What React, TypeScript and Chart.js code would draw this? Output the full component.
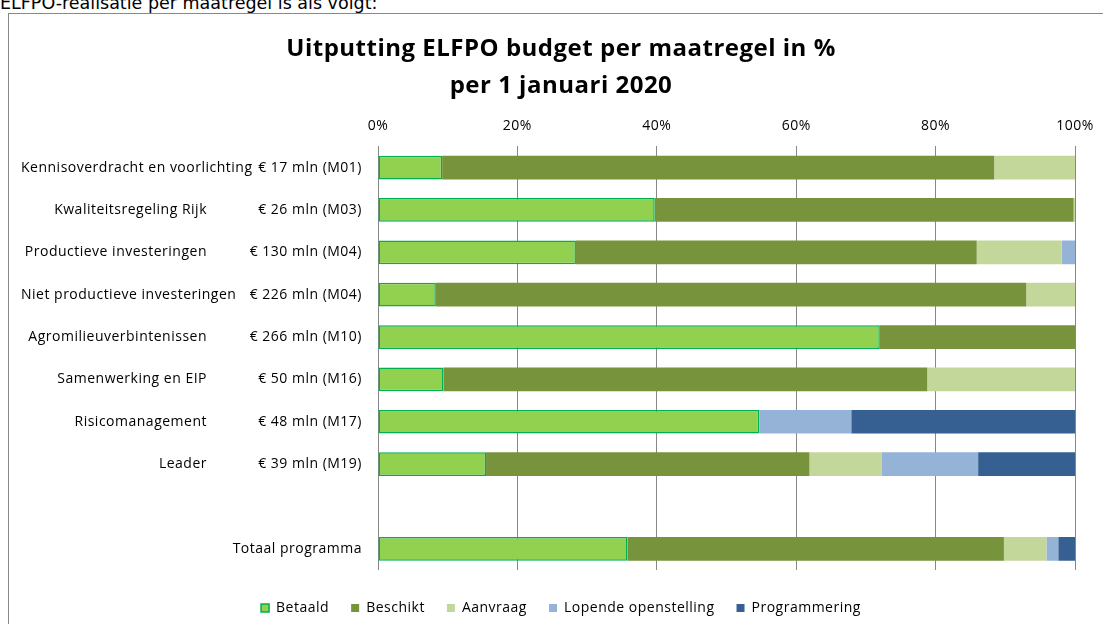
import React, { useEffect, useRef } from "react";
import { Chart, registerables } from "chart.js";

Chart.register(...registerables);

const names = [
  "Kennisoverdracht en voorlichting",
  "Kwaliteitsregeling Rijk",
  "Productieve investeringen",
  "Niet productieve investeringen",
  "Agromilieuverbintenissen",
  "Samenwerking en EIP",
  "Risicomanagement",
  "Leader",
  "",
  "",
];
const budgets = [
  "€ 17 mln (M01)",
  "€ 26 mln (M03)",
  "€ 130 mln (M04)",
  "€ 226 mln (M04)",
  "€ 266 mln (M10)",
  "€ 50 mln (M16)",
  "€ 48 mln (M17)",
  "€ 39 mln (M19)",
  "",
  "Totaal programma",
];
const betaald = [9.2, 39.7, 28.4, 8.3, 72.0, 9.4, 54.7, 15.5, null, 35.8];
const beschikt = [79.2, 60.1, 57.5, 84.7, 28.0, 69.4, 0, 46.4, null, 54.0];
const aanvraag = [11.6, 0.2, 12.2, 7.0, 0, 21.2, 0, 10.4, null, 6.1];
const lopende = [0, 0, 1.9, 0, 0, 0, 13.2, 13.8, null, 1.7];
const programmering = [0, 0, 0, 0, 0, 0, 32.1, 13.9, null, 2.4];
const xTicks = [0, 20, 40, 60, 80, 100];

const titleLines = ["Uitputting ELFPO budget per maatregel in %", "per 1 januari 2020"];
const FONT = "'Open Sans', sans-serif";
const SPACING = "0.5px";

export default function App() {
  const ref = useRef<HTMLCanvasElement | null>(null);
  useEffect(() => {
    const canvas = ref.current!;
    const spacingPlugin = {
      id: "spacing",
      beforeUpdate(chart: any) {
        chart.ctx.letterSpacing = SPACING;
      },
      beforeLayout(chart: any) {
        chart.ctx.letterSpacing = SPACING;
      },
      beforeDraw(chart: any) {
        chart.ctx.letterSpacing = SPACING;
      },
    };
    const namePlugin = {
      id: "names",
      afterDraw(chart: any) {
        const ctx = chart.ctx;
        const y = chart.scales.y;
        ctx.save();
        ctx.letterSpacing = SPACING;
        ctx.font = `14px ${FONT}`;
        ctx.fillStyle = "#000";
        ctx.textAlign = "left";
        ctx.textBaseline = "middle";
        names.forEach((n, i) => {
          if (!n) return;
          const w = ctx.measureText(n).width;
          const x = Math.max(198 - w, 12);
          ctx.fillText(n, x, y.getPixelForValue(i));
        });
        ctx.restore();
      },
    };
    const chart = new Chart(canvas, {
      type: "bar",
      data: {
        labels: budgets,
        datasets: [
          { label: "Betaald", data: betaald, backgroundColor: "#92D050", borderColor: "#00B050", borderWidth: 1.5, borderSkipped: false },
          { label: "Beschikt", data: beschikt, backgroundColor: "#77933C", borderWidth: 0 },
          { label: "Aanvraag", data: aanvraag, backgroundColor: "#C4D79B", borderWidth: 0 },
          { label: "Lopende openstelling", data: lopende, backgroundColor: "#95B3D7", borderWidth: 0 },
          { label: "Programmering", data: programmering, backgroundColor: "#366092", borderWidth: 0 },
        ] as any,
      },
      options: {
        indexAxis: "y",
        responsive: false,
        animation: false,
        devicePixelRatio: 1,
        layout: { padding: { left: 38, right: 38, top: 0, bottom: 9 } },
        datasets: { bar: { categoryPercentage: 1, barPercentage: 0.56 } },
        scales: {
          x: {
            position: "top",
            stacked: true,
            min: 0,
            max: 100,
            afterBuildTicks: (s: any) => {
              s.ticks = xTicks.map((v) => ({ value: v }));
            },
            afterFit: (s: any) => {
              s.height = 42;
            },
            ticks: {
              callback: (v: any) => v + "%",
              font: { family: FONT, size: 14 },
              color: "#000",
              padding: 12,
              maxRotation: 0,
            },
            grid: { color: "#878787", lineWidth: 1, drawTicks: false },
            border: { display: false },
          },
          spacer: {
            type: "linear",
            axis: "x",
            position: "bottom",
            display: true,
            ticks: { display: false },
            grid: { display: false, drawTicks: false },
            border: { display: false },
            afterFit: (s: any) => {
              s.height = 9;
            },
          },
          y: {
            stacked: true,
            afterFit: (s: any) => {
              s.width = 331;
            },
            ticks: {
              font: { family: FONT, size: 14 },
              color: "#000",
              padding: 16,
              autoSkip: false,
            },
            grid: { display: false, drawTicks: false },
            border: { display: false },
          },
        },
        plugins: {
          title: {
            display: true,
            text: titleLines,
            font: { family: FONT, size: 24, weight: "bold", lineHeight: 1.54 },
            color: "#000",
            padding: { top: 16.5, bottom: 0 },
          },
          legend: {
            position: "bottom",
            labels: {
              font: { family: FONT, size: 14 },
              color: "#000",
              boxWidth: 8,
              boxHeight: 8,
              padding: 22,
            },
          },
          tooltip: { enabled: false },
        },
      } as any,
      plugins: [spacingPlugin, namePlugin],
    });
    return () => chart.destroy();
  }, []);
  return (
    <div style={{ position: "absolute", left: 0, top: 0, width: 1103, height: 624, overflow: "hidden", background: "#fff" }}>
      <div
        style={{
          position: "absolute",
          left: 0,
          top: -5,
          fontFamily: "'DejaVu Sans', Verdana, sans-serif",
          fontSize: 17.5,
          lineHeight: "17.5px",
          whiteSpace: "nowrap",
          color: "#000",
        }}
      >
        ELFPO-realisatie per maatregel is als volgt:
      </div>
      <div
        style={{
          position: "absolute",
          left: 8,
          top: 13,
          width: 1105,
          height: 640,
          border: "1px solid #898989",
          boxSizing: "border-box",
        }}
      />
      <canvas ref={ref} width={1104} height={620} style={{ position: "absolute", left: 9, top: 14, width: 1104, height: 620 }} />
    </div>
  );
}
